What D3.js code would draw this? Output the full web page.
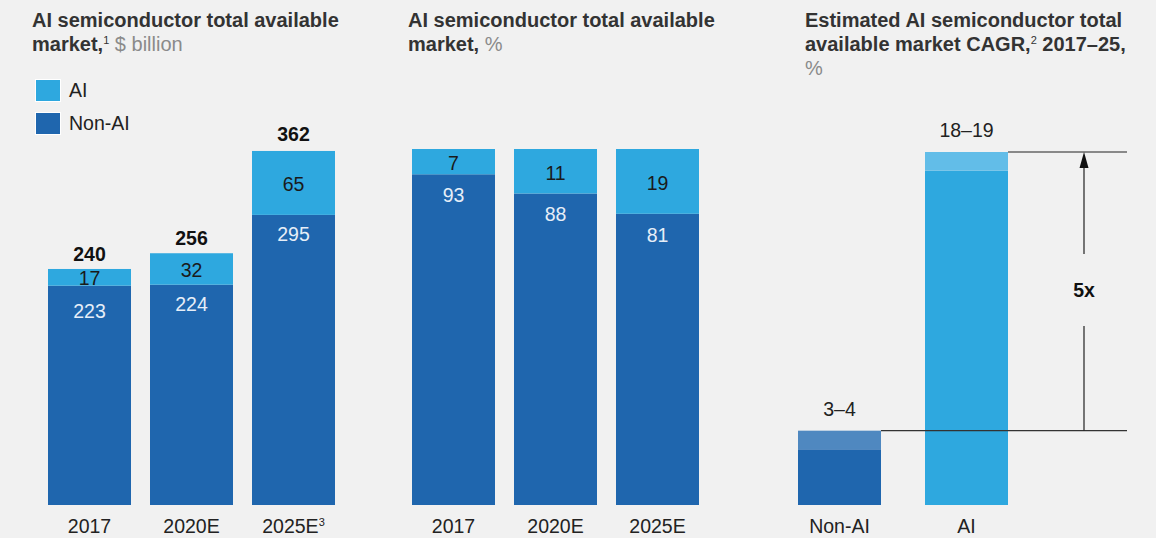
<!DOCTYPE html>
<html>
<head>
<meta charset="utf-8">
<script src="https://cdn.jsdelivr.net/npm/d3@7"></script>
<style>
  html, body { margin: 0; padding: 0; background: #f1f1f1; }
  svg { display: block; font-family: "Liberation Sans", Arial, Helvetica, sans-serif; }
</style>
</head>
<body>
<svg id="chart" width="1156" height="538"></svg>
<script>
// ---- Data ----
const years = ["2017", "2020E", "2025E"];
const yearSup = ["", "", "3"];
const aiValue = [17, 32, 65];          // $ billion
const nonAiValue = [223, 224, 295];    // $ billion
const totalValue = [240, 256, 362];    // $ billion

const aiShare = [7.1, 12.5, 18.2];     // % as drawn
const aiShareLabel = ["7", "11", "19"];
const nonAiShareLabel = ["93", "88", "81"];

const cagrCats = ["Non-AI", "AI"];
const cagrLow = [3, 18];
const cagrHigh = [4, 19];
const cagrLabel = ["3–4", "18–19"];
const multipleLabel = "5x";

// ---- Style ----
const C_AI = "#2ea8df", C_NON = "#1f66ae";
const C_AI_LIGHT = "#62bde8", C_NON_LIGHT = "#4f88c0";
const TXT = "#333333", GREY = "#8a8a8a";
const FS = 19.5, TFS = 20;
const base = 505;

const svg = d3.select("#chart");

function title(x, lines) {
  const t = svg.append("g");
  lines.forEach((parts, i) => {
    const te = t.append("text").attr("x", x).attr("y", 27 + i * 24)
      .attr("font-size", TFS).attr("fill", TXT);
    parts.forEach(p => {
      const ts = te.append("tspan").text(p.t);
      if (p.b) ts.attr("font-weight", "bold");
      if (p.g) ts.attr("fill", GREY);
      if (p.sup) ts.attr("font-size", 11).attr("dy", -7);
      if (p.after) ts.attr("dy", 7);
    });
  });
}

title(32, [[{t: "AI semiconductor total available", b: true}],
           [{t: "market,", b: true}, {t: "1", sup: true}, {t: " $ billion", g: true, after: true}]]);
title(408, [[{t: "AI semiconductor total available", b: true}],
            [{t: "market, ", b: true}, {t: " %", g: true}]]);
title(805, [[{t: "Estimated AI semiconductor total", b: true}],
            [{t: "available market CAGR,", b: true}, {t: "2", sup: true}, {t: " 2017–25,", b: true, after: true}],
            [{t: "%", g: true}]]);

// Legend
const legend = [{k: "AI", c: C_AI, y: 79}, {k: "Non-AI", c: C_NON, y: 112}];
legend.forEach(l => {
  svg.append("rect").attr("x", 35.5).attr("y", l.y + 0.5).attr("width", 25).attr("height", 22)
    .attr("fill", l.c).attr("stroke", "#ffffff").attr("stroke-width", 1);
  svg.append("text").attr("x", 69).attr("y", l.y + 11).attr("dy", "0.35em")
    .attr("font-size", FS).attr("fill", "#222").text(l.k);
});

// ---- Panel 1 ----
const x1 = d3.scaleBand().domain(years).range([48, 335]).paddingInner(19 / 102);
const y1 = d3.scaleLinear().domain([0, 362]).range([base, 149]);
const p1 = svg.append("g");
years.forEach((yr, i) => {
  const x = x1(yr), w = x1.bandwidth();
  p1.append("rect").attr("x", x).attr("width", w)
    .attr("y", y1(nonAiValue[i])).attr("height", y1(0) - y1(nonAiValue[i])).attr("fill", C_NON);
  p1.append("rect").attr("x", x).attr("width", w)
    .attr("y", y1(nonAiValue[i] + aiValue[i])).attr("height", y1(nonAiValue[i]) - y1(nonAiValue[i] + aiValue[i])).attr("fill", C_AI);
  const aiC = (y1(nonAiValue[i]) + y1(nonAiValue[i] + aiValue[i])) / 2 + 1;
  p1.append("text").attr("x", x + w / 2).attr("y", aiC).attr("dy", "0.35em")
    .attr("text-anchor", "middle").attr("font-size", FS).attr("fill", "#1a1a1a").text(aiValue[i]);
  const nonC = Math.max(y1(nonAiValue[i]) + 19.5, aiC + 33);
  p1.append("text").attr("x", x + w / 2).attr("y", nonC).attr("dy", "0.35em")
    .attr("text-anchor", "middle").attr("font-size", FS).attr("fill", "#e6eef8").text(nonAiValue[i]);
  p1.append("text").attr("x", x + w / 2).attr("y", y1(totalValue[i]) - 8)
    .attr("text-anchor", "middle").attr("font-size", FS).attr("font-weight", "bold").attr("fill", "#111").text(totalValue[i]);
  const xl = p1.append("text").attr("x", x + w / 2).attr("y", 526).attr("dy", "0.35em")
    .attr("text-anchor", "middle").attr("font-size", FS).attr("fill", "#222");
  xl.append("tspan").text(yr);
  if (yearSup[i]) xl.append("tspan").attr("font-size", 11).attr("dy", -7).text(yearSup[i]);
});

// ---- Panel 2 ----
const x2 = d3.scaleBand().domain(years).range([412, 699]).paddingInner(19 / 102);
const y2 = d3.scaleLinear().domain([0, 100]).range([base, 149]);
const p2 = svg.append("g");
years.forEach((yr, i) => {
  const x = x2(yr), w = x2.bandwidth();
  const b = 100 - aiShare[i];
  p2.append("rect").attr("x", x).attr("width", w)
    .attr("y", y2(b)).attr("height", y2(0) - y2(b)).attr("fill", C_NON);
  p2.append("rect").attr("x", x).attr("width", w)
    .attr("y", y2(100)).attr("height", y2(b) - y2(100)).attr("fill", C_AI);
  const aiC = (y2(b) + y2(100)) / 2 + 2;
  p2.append("text").attr("x", x + w / 2).attr("y", aiC).attr("dy", "0.35em")
    .attr("text-anchor", "middle").attr("font-size", FS).attr("fill", "#1a1a1a").text(aiShareLabel[i]);
  p2.append("text").attr("x", x + w / 2).attr("y", y2(b) + 21).attr("dy", "0.35em")
    .attr("text-anchor", "middle").attr("font-size", FS).attr("fill", "#e6eef8").text(nonAiShareLabel[i]);
  p2.append("text").attr("x", x + w / 2).attr("y", 526).attr("dy", "0.35em")
    .attr("text-anchor", "middle").attr("font-size", FS).attr("fill", "#222").text(yr);
});

// ---- Panel 3 ----
const x3 = d3.scaleBand().domain(cagrCats).range([798, 1008]).paddingInner(44 / 127);
const y3 = d3.scaleLinear().domain([0, 19]).range([base, 152]);
const p3 = svg.append("g");
const dark = [C_NON, C_AI], light = [C_NON_LIGHT, C_AI_LIGHT];
cagrCats.forEach((c, i) => {
  const x = x3(c), w = x3.bandwidth();
  p3.append("rect").attr("x", x).attr("width", w)
    .attr("y", y3(cagrLow[i])).attr("height", y3(0) - y3(cagrLow[i])).attr("fill", dark[i]);
  p3.append("rect").attr("x", x).attr("width", w)
    .attr("y", y3(cagrHigh[i])).attr("height", y3(cagrLow[i]) - y3(cagrHigh[i])).attr("fill", light[i]);
  p3.append("text").attr("x", x + w / 2).attr("y", y3(cagrHigh[i]) - 22).attr("dy", "0.35em")
    .attr("text-anchor", "middle").attr("font-size", FS).attr("fill", "#222").text(cagrLabel[i]);
  p3.append("text").attr("x", x + w / 2).attr("y", 526).attr("dy", "0.35em")
    .attr("text-anchor", "middle").attr("font-size", FS).attr("fill", "#222").text(c);
});
const lineEnd = 1127, arrowX = 1084;
const yTop = y3(cagrHigh[1]), yBot = y3(cagrHigh[0]);
p3.append("line").attr("x1", x3("AI") + x3.bandwidth()).attr("x2", lineEnd)
  .attr("y1", yTop).attr("y2", yTop).attr("stroke", "#222").attr("stroke-width", 1.2);
p3.append("line").attr("x1", x3("Non-AI") + x3.bandwidth()).attr("x2", lineEnd)
  .attr("y1", yBot).attr("y2", yBot).attr("stroke", "#333").attr("stroke-width", 1.2);
const midY = 290;
p3.append("line").attr("x1", arrowX).attr("x2", arrowX).attr("y1", yTop + 14).attr("y2", midY - 36)
  .attr("stroke", "#222").attr("stroke-width", 1.2);
p3.append("line").attr("x1", arrowX).attr("x2", arrowX).attr("y1", midY + 36).attr("y2", yBot)
  .attr("stroke", "#222").attr("stroke-width", 1.2);
p3.append("path").attr("d", `M${arrowX},${yTop} L${arrowX - 4.5},${yTop + 16} L${arrowX + 4.5},${yTop + 16} Z`)
  .attr("fill", "#111");
p3.append("text").attr("x", arrowX).attr("y", midY).attr("dy", "0.35em").attr("text-anchor", "middle")
  .attr("font-size", FS).attr("font-weight", "bold").attr("fill", "#111").text(multipleLabel);
</script>
</body>
</html>
